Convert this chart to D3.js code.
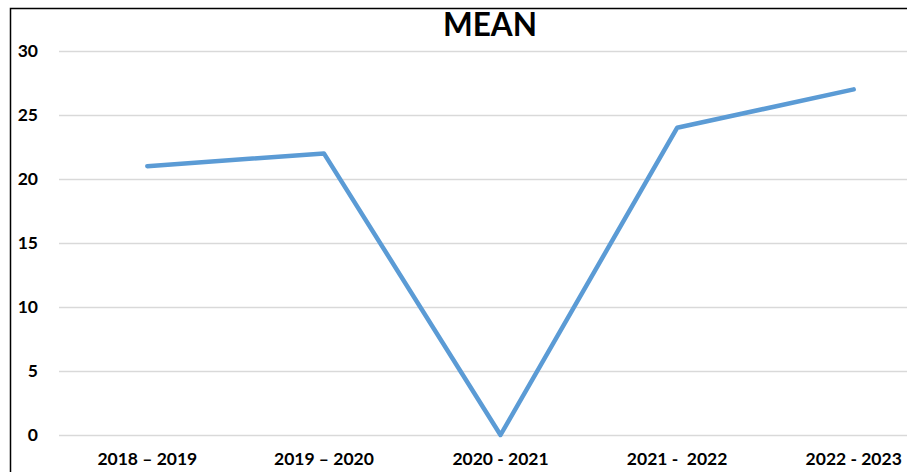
<!DOCTYPE html>
<html>
<head>
<meta charset="utf-8">
<script src="https://cdn.jsdelivr.net/npm/d3@7"></script>
<style>
  html, body { margin: 0; padding: 0; background: #fff; }
  svg { display: block; }
  text { font-family: Lato, "Open Sans", sans-serif; font-weight: bold; fill: #000; }
</style>
</head>
<body>
<svg id="chart" width="907" height="472"></svg>
<script>
var categories = ["2018 \u2013 2019", "2019 \u2013 2020", "2020 - 2021", "2021 -  2022", "2022 - 2023"];
var meanValues = [21, 22, 0, 24, 27];
var yTicks = [0, 5, 10, 15, 20, 25, 30];

const lineColor = "#5b9bd5",
    gridColor = "#d9d9d9";

function drawChart() {
    var svg = d3.select("#chart"),
    margin = {
        top: 51,
        left: 59,
        right: -35,
        bottom: 37
    },
    width = 907 - margin.left - margin.right,
    height = 472 - margin.top - margin.bottom;

    // outer frame (cropped at right and bottom)
    svg.append("path")
        .attr("d", "M10.5,472 L10.5,8.5 L907,8.5")
        .attr("fill", "none")
        .attr("stroke", "#000")
        .attr("stroke-width", 1.5);

    var xScale = d3.scaleBand().domain(categories).range([0, width]),
        yScale = d3.scaleLinear().domain([0, 30]).range([height, 0]);

    var g = svg.append("g")
        .attr("transform", "translate(" + margin.left + "," + margin.top + ")");

    // gridlines
    g.append("g")
        .call(d3.axisLeft(yScale).tickValues(yTicks).tickSize(-width).tickFormat(""))
        .call(function(a) {
            a.select(".domain").remove();
            a.selectAll("line").attr("stroke", gridColor).attr("stroke-width", 1.5);
        });

    // y labels
    g.append("g")
        .call(d3.axisLeft(yScale).tickValues(yTicks).tickSize(0).tickPadding(21))
        .call(function(a) {
            a.select(".domain").remove();
            a.selectAll("text").attr("font-size", 17.5).attr("font-family", "Lato, 'Open Sans', sans-serif").attr("font-weight", "bold");
        });

    // x labels
    g.append("g")
        .attr("transform", "translate(0," + height + ")")
        .call(d3.axisBottom(xScale).tickSize(0).tickPadding(18))
        .call(function(a) {
            a.select(".domain").remove();
            a.selectAll("text").attr("font-size", 17.5).attr("font-family", "Lato, 'Open Sans', sans-serif").attr("font-weight", "bold")
                .style("white-space", "pre").attr("xml:space", "preserve");
        });

    var line = d3.line()
        .x(function(d, i) { return xScale(categories[i]) + xScale.bandwidth() / 2; })
        .y(function(d) { return yScale(d); });

    g.append("path")
        .datum(meanValues)
        .attr("d", line)
        .attr("fill", "none")
        .attr("stroke", lineColor)
        .attr("stroke-width", 4.5)
        .attr("stroke-linecap", "round")
        .attr("stroke-linejoin", "round");

    svg.append("text")
        .attr("x", 490)
        .attr("y", 36)
        .attr("text-anchor", "middle")
        .attr("font-size", 31.5)
        .text("MEAN");
}

drawChart();
</script>
</body>
</html>
